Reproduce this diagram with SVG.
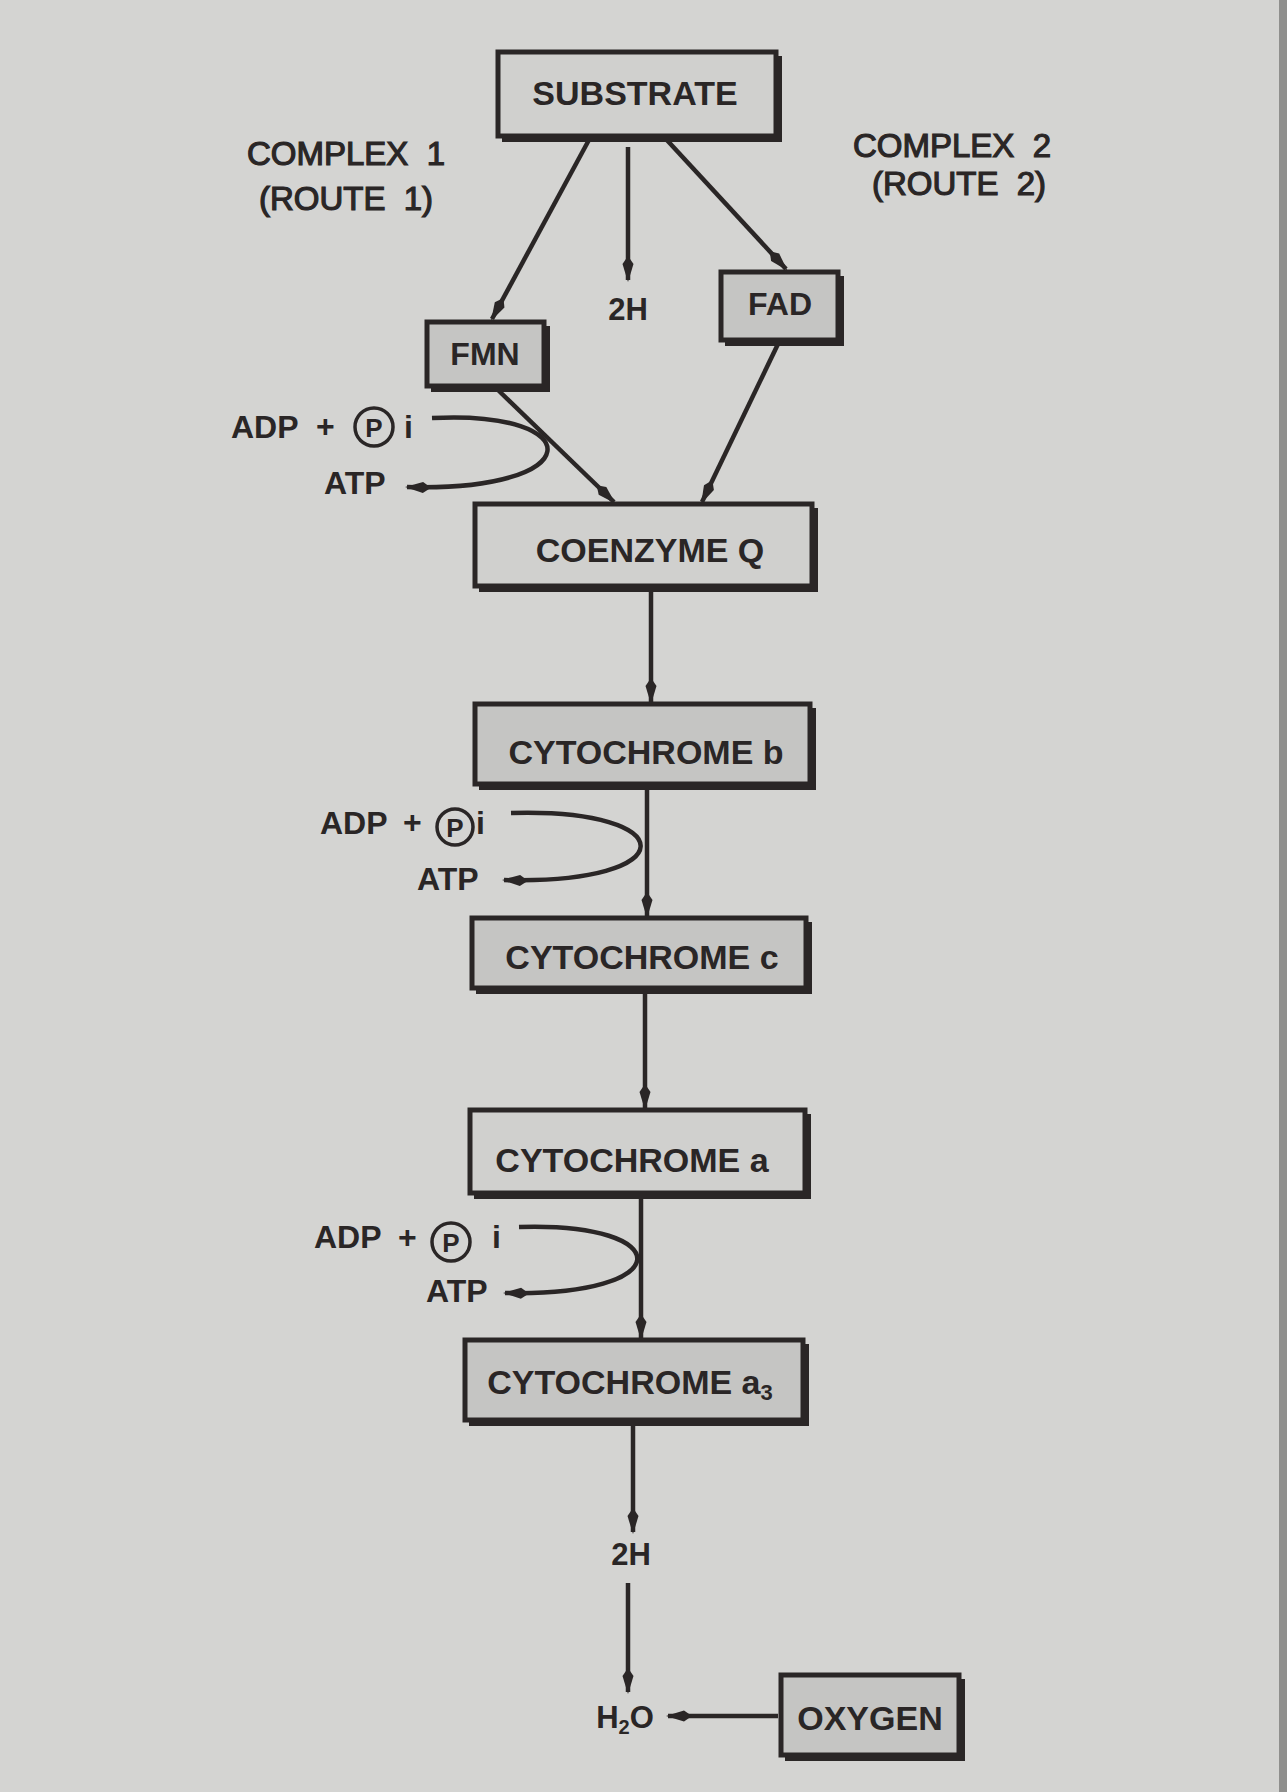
<svg xmlns="http://www.w3.org/2000/svg" width="1287" height="1792" viewBox="0 0 1287 1792">
<defs>
<style>
.bg{fill:#d4d4d2}
.box{stroke:#2a2626;stroke-width:5;fill:#d0d0ce}
.dark{fill:#c5c5c3}
.sh{fill:none;stroke:#2a2626;stroke-width:6;stroke-linejoin:miter}
.lbl{font-family:"Liberation Sans",Arial,sans-serif;font-weight:bold;fill:#2a2626;text-anchor:middle}
.bl{font-size:34px}
.sm{font-size:32px}
.cx{font-family:"Liberation Sans",Arial,sans-serif;font-weight:normal;fill:#2a2626;stroke:#2a2626;stroke-width:1.2;text-anchor:middle;font-size:33px}
.tx{font-family:"Liberation Sans",Arial,sans-serif;font-weight:bold;fill:#2a2626;font-size:32px}
.ln{fill:none;stroke:#2a2626;stroke-width:4.5;marker-end:url(#ah)}
.pc{fill:none;stroke:#2a2626;stroke-width:3.5}
</style>
<marker id="ah" viewBox="0 0 26 12" refX="24" refY="6" markerWidth="26" markerHeight="12" markerUnits="userSpaceOnUse" orient="auto">
<path d="M0,6 L8,0.5 L26,6 L8,11.5 z" fill="#2a2626"/>
</marker>
</defs>
<rect class="bg" x="0" y="0" width="1287" height="1792"/>
<rect x="1279" y="0" width="8" height="1792" fill="#8f8f8d"/>

<g id="connectors">
<path class="ln" d="M590,138 L492,319"/>
<path class="ln" d="M628,147 L628,280"/>
<path class="ln" d="M665,138 L786,269"/>
<path class="ln" d="M498,390 L614,502"/>
<path class="ln" d="M778,344 L702,502"/>
<path class="ln" d="M651,590 L651,702"/>
<path class="ln" d="M647,790 L647,916"/>
<path class="ln" d="M645,993 L645,1108"/>
<path class="ln" d="M641,1198 L641,1338"/>
<path class="ln" d="M633,1425 L633,1532"/>
<path class="ln" d="M628,1583 L628,1692"/>
<path class="ln" d="M778,1716 L668,1716"/>
<path class="ln" d="M432,418 C590,410 590,492 407,487"/>
<path class="ln" d="M511,813 C685,808 685,885 504,880"/>
<path class="ln" d="M519,1227 C679,1222 679,1297 505,1293"/>
</g>

<g id="substrate">
<rect class="box" x="498" y="52" width="278" height="84"/>
<path class="sh" d="M502,139 H779 V56"/>
<text class="lbl bl" x="635" y="105">SUBSTRATE</text>
</g>
<g id="complex1">
<text class="cx" x="346" y="165" xml:space="preserve">COMPLEX  1</text>
<text class="cx" x="346" y="210" xml:space="preserve">(ROUTE  1)</text>
</g>
<g id="complex2">
<text class="cx" x="952" y="157" xml:space="preserve">COMPLEX  2</text>
<text class="cx" x="959" y="195" xml:space="preserve">(ROUTE  2)</text>
</g>
<g id="h2-top">
<text class="lbl" x="628" y="320" style="font-size:31px">2H</text>
</g>
<g id="fmn">
<rect class="box dark" x="427" y="322" width="117" height="64"/>
<path class="sh" d="M431,389 H547 V326"/>
<text class="lbl sm" x="485" y="365">FMN</text>
</g>
<g id="fad">
<rect class="box dark" x="721" y="272" width="117" height="68"/>
<path class="sh" d="M725,343 H841 V276"/>
<text class="lbl sm" x="780" y="315">FAD</text>
</g>
<g id="atp1">
<text class="tx" x="231" y="438">ADP</text>
<text class="tx" x="316" y="437">+</text>
<circle class="pc" cx="374" cy="427" r="19"/>
<text class="lbl" x="374" y="437" style="font-size:26px">P</text>
<text class="tx" x="404" y="438">i</text>
<text class="tx" x="324" y="494">ATP</text>
</g>
<g id="coenzyme-q">
<rect class="box" x="475" y="504" width="337" height="82"/>
<path class="sh" d="M479,589 H815 V508"/>
<text class="lbl bl" x="650" y="562">COENZYME Q</text>
</g>
<g id="cytochrome-b">
<rect class="box dark" x="475" y="704" width="335" height="80"/>
<path class="sh" d="M479,787 H813 V708"/>
<text class="lbl bl" x="646" y="764">CYTOCHROME b</text>
</g>
<g id="atp2">
<text class="tx" x="320" y="834">ADP</text>
<text class="tx" x="403" y="833">+</text>
<circle class="pc" cx="455" cy="827" r="18"/>
<text class="lbl" x="455" y="837" style="font-size:26px">P</text>
<text class="tx" x="476" y="834">i</text>
<text class="tx" x="417" y="890">ATP</text>
</g>
<g id="cytochrome-c">
<rect class="box dark" x="472" y="918" width="334" height="70"/>
<path class="sh" d="M476,991 H809 V922"/>
<text class="lbl bl" x="642" y="969">CYTOCHROME c</text>
</g>
<g id="cytochrome-a">
<rect class="box" x="470" y="1110" width="335" height="83"/>
<path class="sh" d="M474,1196 H808 V1114"/>
<text class="lbl bl" x="632" y="1172">CYTOCHROME a</text>
</g>
<g id="atp3">
<text class="tx" x="314" y="1248">ADP</text>
<text class="tx" x="398" y="1248">+</text>
<circle class="pc" cx="451" cy="1242" r="19"/>
<text class="lbl" x="451" y="1252" style="font-size:26px">P</text>
<text class="tx" x="492" y="1248">i</text>
<text class="tx" x="426" y="1302">ATP</text>
</g>
<g id="cytochrome-a3">
<rect class="box dark" x="465" y="1340" width="338" height="80"/>
<path class="sh" d="M469,1423 H806 V1344"/>
<text class="lbl bl" x="630" y="1394">CYTOCHROME a<tspan dy="6" style="font-size:22px">3</tspan></text>
</g>
<g id="h2-bottom">
<text class="lbl" x="631" y="1565" style="font-size:31px">2H</text>
</g>
<g id="h2o">
<text class="lbl" x="625" y="1728" style="font-size:31px">H<tspan dy="6" style="font-size:20px">2</tspan><tspan dy="-6">O</tspan></text>
</g>
<g id="oxygen">
<rect class="box dark" x="781" y="1675" width="178" height="80"/>
<path class="sh" d="M785,1758 H962 V1679"/>
<text class="lbl bl" x="870" y="1730">OXYGEN</text>
</g>
</svg>
